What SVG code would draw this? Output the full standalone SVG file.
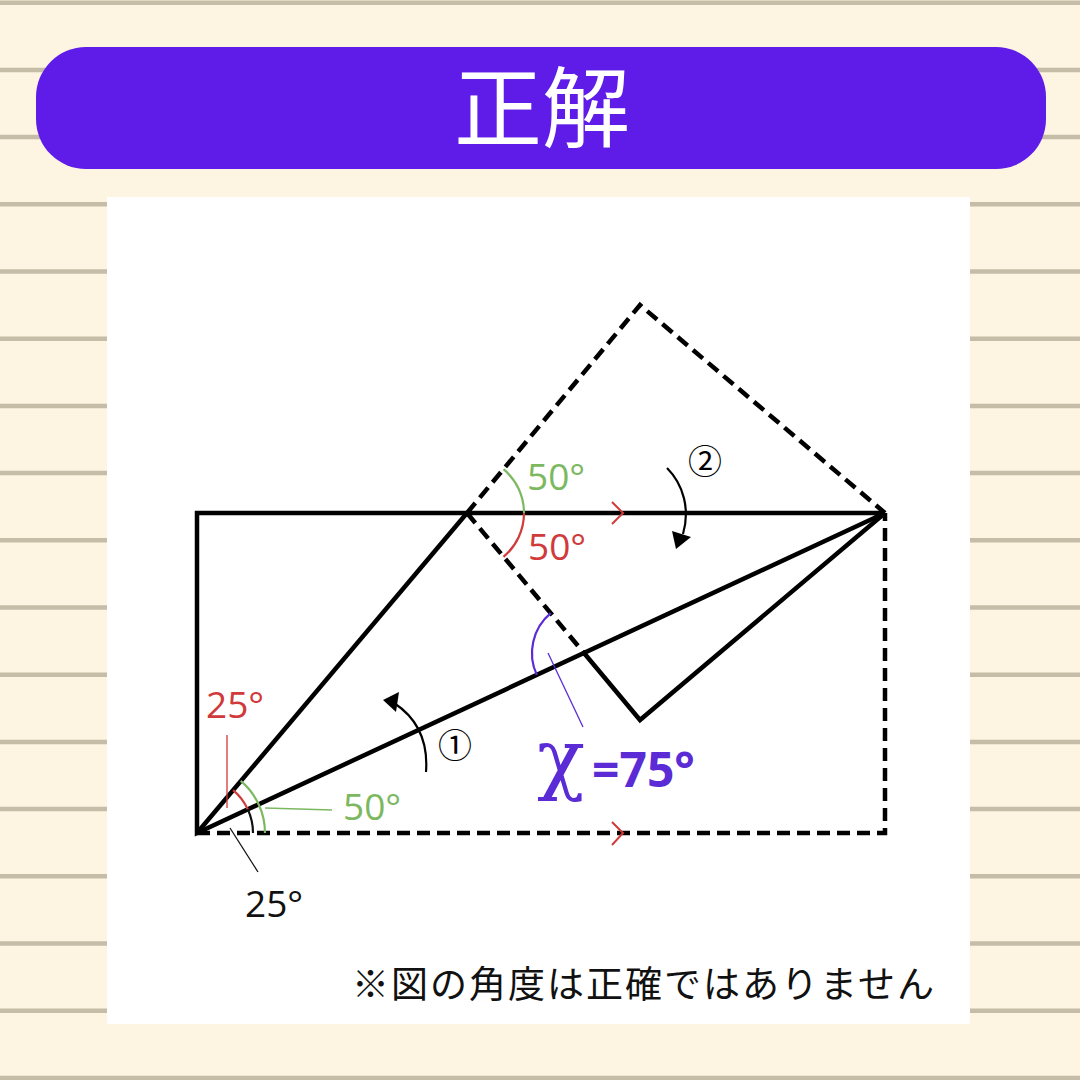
<svg xmlns="http://www.w3.org/2000/svg" width="1080" height="1080" viewBox="0 0 1080 1080">
<style>
.stripe{stroke:#c6bda8;stroke-width:4.5}
.solid{fill:none;stroke:#000;stroke-width:4.5;stroke-linejoin:miter}
.dash{fill:none;stroke:#000;stroke-width:4.5;stroke-dasharray:13 7}
.lbl{font-family:"Open Sans","Noto Sans",sans-serif;font-size:37px}
.red{fill:#d03a3a}
.green{fill:#7cb860}
.blk{fill:#111}
</style>
<rect width="1080" height="1080" fill="#fdf5e1"/>
<g id="stripes">
<line class="stripe" x1="0" y1="2.7" x2="1080" y2="2.7"/>
<line class="stripe" x1="0" y1="69.9" x2="1080" y2="69.9"/>
<line class="stripe" x1="0" y1="137.1" x2="1080" y2="137.1"/>
<line class="stripe" x1="0" y1="204.3" x2="1080" y2="204.3"/>
<line class="stripe" x1="0" y1="271.5" x2="1080" y2="271.5"/>
<line class="stripe" x1="0" y1="338.7" x2="1080" y2="338.7"/>
<line class="stripe" x1="0" y1="405.9" x2="1080" y2="405.9"/>
<line class="stripe" x1="0" y1="473.1" x2="1080" y2="473.1"/>
<line class="stripe" x1="0" y1="540.3" x2="1080" y2="540.3"/>
<line class="stripe" x1="0" y1="607.5" x2="1080" y2="607.5"/>
<line class="stripe" x1="0" y1="674.7" x2="1080" y2="674.7"/>
<line class="stripe" x1="0" y1="741.9" x2="1080" y2="741.9"/>
<line class="stripe" x1="0" y1="809.1" x2="1080" y2="809.1"/>
<line class="stripe" x1="0" y1="876.3" x2="1080" y2="876.3"/>
<line class="stripe" x1="0" y1="943.5" x2="1080" y2="943.5"/>
<line class="stripe" x1="0" y1="1010.7" x2="1080" y2="1010.7"/>
<line class="stripe" x1="0" y1="1077.9" x2="1080" y2="1077.9"/>
</g>
<g id="header">
<rect x="36" y="47" width="1010" height="122" rx="50" fill="#5f1be8"/>
<text x="542" y="140" text-anchor="middle" font-family="'Noto Sans CJK JP',sans-serif" font-size="88" fill="#fff">正解</text>
</g>
<rect id="panel" x="107" y="197" width="863" height="827" fill="#fff"/>
<g id="figure">
<path class="solid" d="M885,513 L197,513 L197,833 L885,513"/>
<path class="solid" d="M197,833 L467,513"/>
<path class="dash" d="M197,833 L885,833 L885,513"/>
<path class="dash" d="M467,513 L640,305 L885,513"/>
<path class="dash" d="M467,513 L584,653"/>
<path class="solid" d="M584,653 L640,720 L885,513"/>
</g>
<g id="marks" fill="none" stroke="#d03a3a" stroke-width="2">
<path d="M612,502 L623,513 L612,524"/>
<path d="M612,822 L623,833 L612,845"/>
</g>
<g id="angles">
<path d="M503.5,469.2 A57,57 0 0 1 524,513" fill="none" stroke="#7cb860" stroke-width="2.2"/>
<path d="M524,513 A57,57 0 0 1 503.5,556.8" fill="none" stroke="#d03a3a" stroke-width="2.2"/>
<path d="M240.7,780.9 A68,68 0 0 1 265,833" fill="none" stroke="#7cb860" stroke-width="2.2"/>
<path d="M233.1,790.2 A56,56 0 0 1 247.8,809.4" fill="none" stroke="#d03a3a" stroke-width="2.2"/>
<path d="M247.8,809.4 A56,56 0 0 1 253,833" fill="none" stroke="#111" stroke-width="2.2"/>
<path d="M550.7,613.1 A52,52 0 0 0 536.8,674.9" fill="none" stroke="#5b2bd6" stroke-width="2.2"/>
</g>
<g id="leaders">
<line x1="227" y1="735" x2="227" y2="808" stroke="#d03a3a" stroke-width="1.3"/>
<line x1="230" y1="828" x2="258" y2="872" stroke="#111" stroke-width="1.3"/>
<line x1="265" y1="808" x2="332" y2="810" stroke="#7cb860" stroke-width="1.3"/>
<line x1="548" y1="653" x2="583" y2="727" stroke="#5b2bd6" stroke-width="1.3"/>
</g>
<g id="arrows">
<path d="M426,772 C428,745 420,720 394,703" fill="none" stroke="#000" stroke-width="2.2"/>
<polygon points="383,700 399,692 396,712" fill="#000"/>
<path d="M667,468 C684,485 690,510 683,534" fill="none" stroke="#000" stroke-width="2.2"/>
<polygon points="676,549 672,531 691,537" fill="#000"/>
</g>
<g id="labels">
<text class="lbl green" x="527" y="490">50°</text>
<text class="lbl red" x="528" y="560">50°</text>
<text class="lbl red" x="206" y="718">25°</text>
<text class="lbl green" x="343" y="820">50°</text>
<text class="lbl blk" x="245" y="917">25°</text>
<text x="455" y="758" text-anchor="middle" font-family="'Noto Sans CJK JP',sans-serif" font-size="34" fill="#000">①</text>
<text x="705" y="474" text-anchor="middle" font-family="'Noto Sans CJK JP',sans-serif" font-size="34" fill="#000">②</text>
<text x="561" y="785" text-anchor="middle" font-family="'DejaVu Serif',serif" font-size="79" fill="#5b2bd6">χ</text>
<text x="592" y="787" font-family="'Open Sans',sans-serif" font-weight="bold" font-size="48" fill="#5b2bd6">=75°</text>
<text x="352" y="998" font-family="'Noto Sans CJK JP',sans-serif" font-size="37" letter-spacing="2" fill="#111">※図の角度は正確ではありません</text>
</g>
</svg>
